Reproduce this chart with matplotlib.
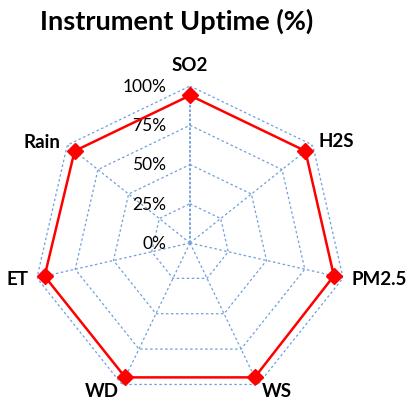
import numpy as np
import matplotlib
matplotlib.use("Agg")
import matplotlib.pyplot as plt

categories = ["SO2", "H2S", "PM2.5", "WS", "WD", "ET", "Rain"]
uptime = [94, 94, 94, 95, 95, 95, 94]
ring_levels = [0, 25, 50, 75, 100]
ring_labels = ["0%", "25%", "50%", "75%", "100%"]

GRID = "#6f9fdc"
RED = "#ff0000"
# label offsets in pixels from each outer vertex
label_offsets = [(0, 21), (24, 5), (36, -1), (19, -6), (-20, -6), (-19, -1), (-25, 4)]

plt.rcParams["font.family"] = ["Lato", "DejaVu Sans"]

fig = plt.figure(figsize=(4.08, 4.02), dpi=100, facecolor="white")
ax = fig.add_axes([33 / 408, 1 / 402, 314 / 408, 314 / 402], projection="polar")
ax.set_theta_offset(np.pi / 2)
ax.set_theta_direction(-1)
ax.set_ylim(0, 100)
ax.grid(False)
ax.spines["polar"].set_visible(False)
ax.set_xticks([])
ax.set_yticks([])
ax.patch.set_alpha(0)

n = len(categories)
theta = np.linspace(0, 2 * np.pi, n, endpoint=False)
theta_closed = np.append(theta, theta[0])

# heptagon rings
for lvl in ring_levels[1:]:
    ax.plot(theta_closed, [lvl] * (n + 1), color=GRID, lw=0.9,
            linestyle=(0, (2, 2)), zorder=1)

# spokes
for i, t in enumerate(theta):
    ax.plot([t, t], [0, 100], color=GRID, lw=1.3 if i == 0 else 0.9,
            linestyle=(0, (2, 2)) if i else (0, (1.5, 1)), zorder=1)

# value labels along the first spoke
for lvl, txt in zip(ring_levels, ring_labels):
    ax.annotate(txt, (0, lvl), xytext=(-24, 0), textcoords="offset pixels",
                ha="right", va="center", fontsize=12.5, color="black")

vals = np.append(uptime, uptime[0])
ax.plot(theta_closed, vals, color=RED, lw=1.8, zorder=3)
ax.plot(theta, uptime, linestyle="none", marker="D", markersize=8,
        color=RED, zorder=4)

for t, name, off in zip(theta, categories, label_offsets):
    ax.annotate(name, (t, 100), xytext=off, textcoords="offset pixels",
                ha="center", va="center", fontsize=13.5, fontweight="bold",
                color="black")

fig.text(177 / 408, 1 - 21 / 402, "Instrument Uptime (%)", ha="center",
         va="center", fontsize=19.5, fontweight="bold", color="black")

fig.savefig("out.png", dpi=100, facecolor="white")
